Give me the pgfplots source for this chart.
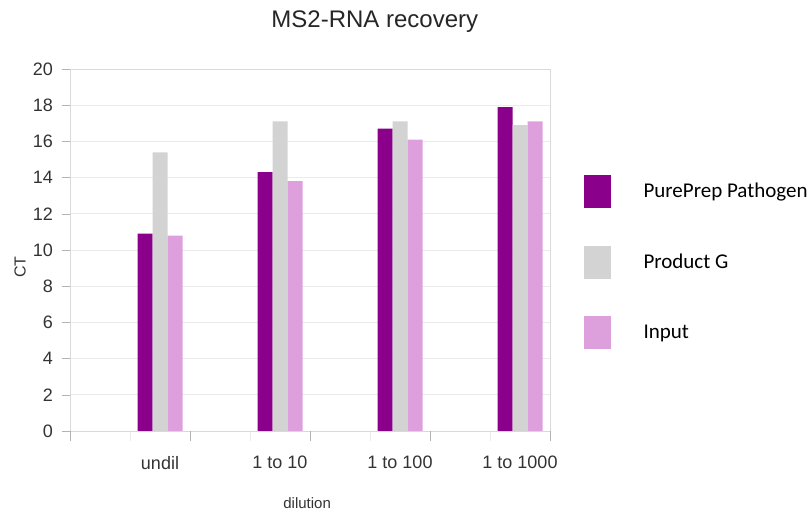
\documentclass[border=0pt]{standalone}
\usepackage{fontspec}
\setmainfont{Liberation Sans}
\newfontfamily\legfont{Carlito}
\usepackage{pgfplots}
\pgfplotsset{compat=1.18}

\definecolor{ppurple}{HTML}{8B008B}
\definecolor{pgray}{HTML}{D3D3D3}
\definecolor{ppink}{HTML}{DDA0DD}
\definecolor{boxgray}{HTML}{D9D9D9}
\definecolor{gridgray}{HTML}{EBEBEB}
\definecolor{tickgray}{HTML}{B3B3B3}
\definecolor{txt}{HTML}{333333}

\pgfplotsset{sq legend/.style={legend image code/.code={
  \fill[##1,draw=none] (0pt,-8.25pt) rectangle (13.5pt,8.25pt);}}}

\begin{document}
\begin{tikzpicture}
\begin{axis}[
  at={(35pt,41pt)}, anchor=south west,
  scale only axis, width=240pt, height=181pt,
  ybar=0pt, bar width=7.5pt,
  xmin=-0.75, xmax=3.25, ymin=0, ymax=20,
  enlarge x limits=false,
  xtick={0,1,2,3},
  xticklabels={undil,1 to 10,1 to 100,1 to 1000},
  xtick style={draw=none},
  extra x ticks={-0.75,0.25,1.25,2.25,3.25},
  extra x tick labels={},
  extra x tick style={xtick style={draw=tickgray}, major tick length=5pt},
  minor xtick={-0.25,0.75,1.75,2.75},
  minor x tick style={draw=gridgray},
  minor tick length=5pt,
  ytick distance=2,
  ytick style={draw=tickgray},
  major tick length=4pt,
  tick align=outside,
  xtick pos=lower, ytick pos=left,
  ymajorgrids, grid style={gridgray},
  axis line style={draw=boxgray},
  /pgf/number format/assume math mode=true,
  tick label style={font=\fontsize{9}{10}\selectfont, text=txt},
  yticklabel style={xshift=-1pt},
  xticklabel style={yshift=-5pt},
  every axis title shift=0pt,
  title={MS2-RNA recovery},
  title style={at={(0.635,1)}, anchor=center, yshift=23.5pt,
    font=\fontsize{12}{14}\selectfont, text=black!85},
  xlabel={dilution},
  xlabel style={at={(0.494,-0.199)}, anchor=center,
    font=\fontsize{7.5}{9}\selectfont, text=txt},
  ylabel={CT},
  ylabel style={at={(-0.104,0.453)}, anchor=center, rotate=0,
    font=\fontsize{8}{9}\selectfont, text=txt},
  legend cell align=left,
  legend style={at={(1.069,0.707)}, anchor=north west, draw=none,
    inner sep=0pt, row sep=18.75pt, column sep=16.5pt,
    nodes={inner sep=0pt}, font=\legfont\fontsize{10.5}{12}\selectfont},
]
\addplot[fill=ppurple, draw=none, sq legend] coordinates {(0,10.9) (1,14.3) (2,16.7) (3,17.9)};
\addplot[fill=pgray, draw=none, sq legend] coordinates {(0,15.4) (1,17.1) (2,17.1) (3,16.9)};
\addplot[fill=ppink, draw=none, sq legend] coordinates {(0,10.8) (1,13.8) (2,16.1) (3,17.1)};
\legend{PurePrep Pathogen, Product G, Input}
\end{axis}
\pgfresetboundingbox
\path[use as bounding box] (0,0) rectangle (406pt,256.5pt);
\end{tikzpicture}
\end{document}
